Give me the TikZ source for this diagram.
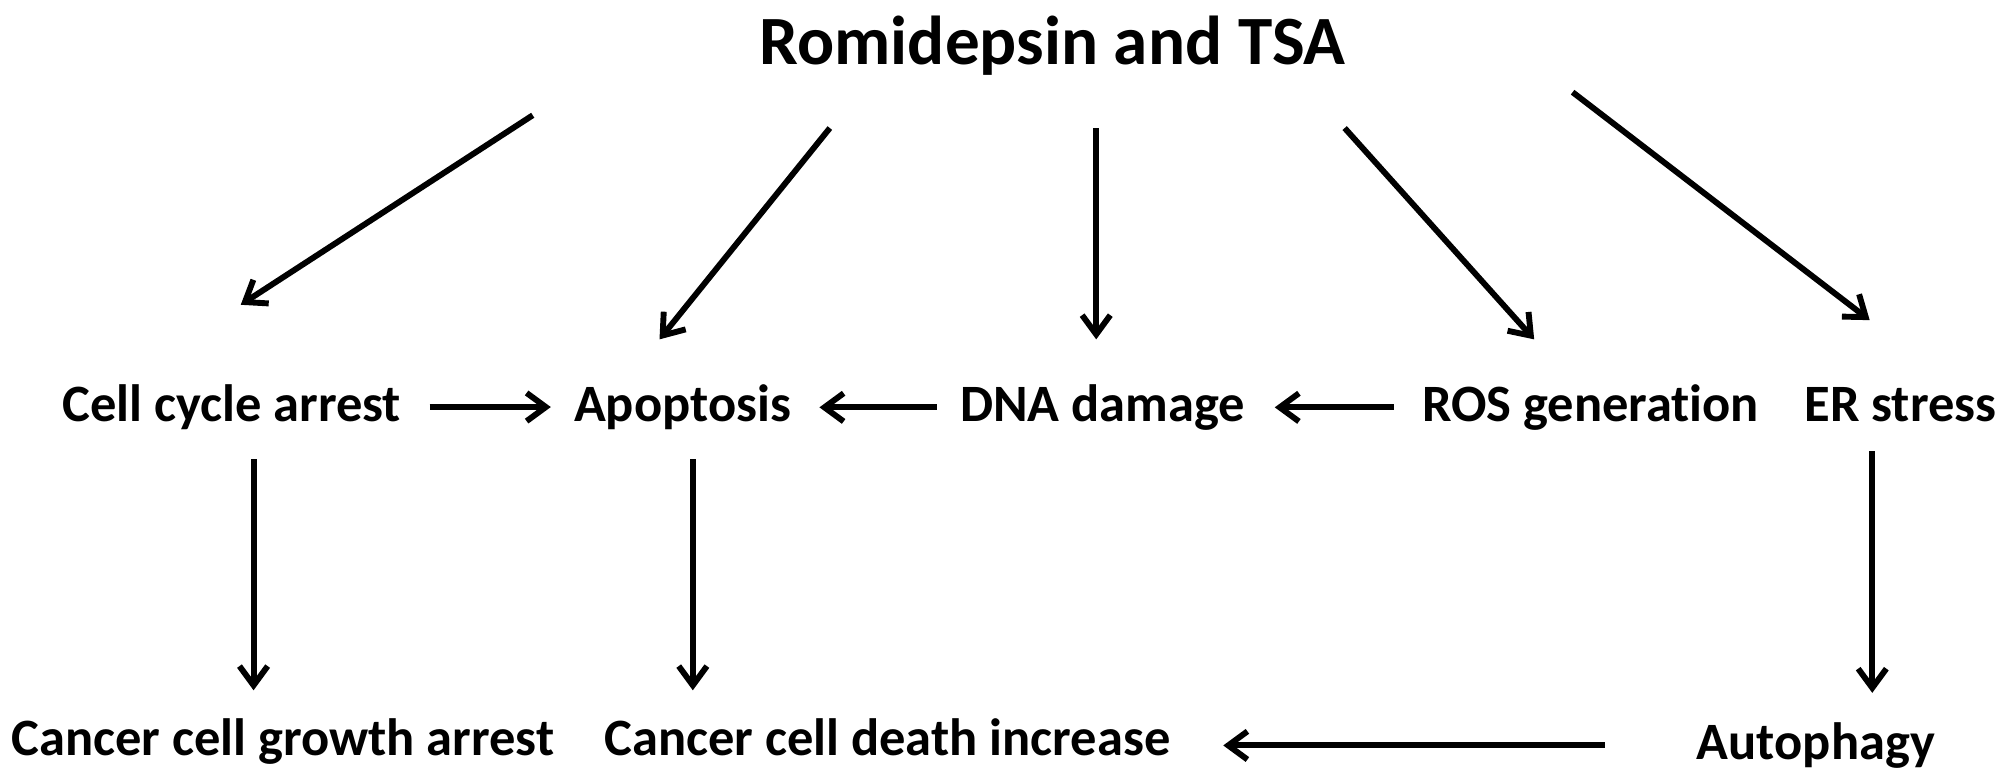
\documentclass[tikz,border=0pt]{standalone}
\usepackage{fontspec}
\setmainfont{Carlito}[Ligatures=NoCommon]
\usetikzlibrary{arrows.meta}

\tikzset{
  lbl/.style={font=\fontsize{41}{49}\selectfont\bfseries, inner sep=0pt, anchor=base},
  arr/.style={line width=4.6pt, -{Straight Barb[length=15pt,width=22pt]}},
}

\begin{document}
\begin{tikzpicture}[x=1pt, y=-1pt]
        % Fix the page size
        \useasboundingbox (0,0) rectangle (1568,607);

        % Title
        \node[lbl, font=\fontsize{54}{64}\selectfont\bfseries] (drug) at (822,50) {Romidepsin and TSA};

        % Middle row
        \node[lbl] (cca) at (181,329) {Cell cycle arrest};
        \node[lbl] (apo) at (533,329) {Apoptosis};
        \node[lbl] (dna) at (861,329) {DNA damage};
        \node[lbl] (ros) at (1242,329) {ROS generation};
        \node[lbl] (er) at (1484,329) {ER stress};

        % Bottom row
        \node[lbl] (cga) at (221,590) {Cancer cell growth arrest};
        \node[lbl] (cdi) at (693,590) {Cancer cell death increase};
        \node[lbl] (aut) at (1418,593) {Autophagy};

        % Ends of the arrows coming from the title
        \coordinate (s1) at (416,90);   \coordinate (t1) at (188,238);
        \coordinate (s2) at (648,100);  \coordinate (t2) at (515,265);
        \coordinate (s3) at (856,100);  \coordinate (t3) at (856,265);
        \coordinate (s4) at (1050,100); \coordinate (t4) at (1198,265);
        \coordinate (s5) at (1228,72);  \coordinate (t5) at (1460,250);

        % Arrows from the title
        \draw[arr] (s1) -- (t1);
        \draw[arr] (s2) -- (t2);
        \draw[arr] (s3) -- (t3);
        \draw[arr] (s4) -- (t4);
        \draw[arr] (s5) -- (t5);

        % Arrows between the middle row
        \draw[arr, shorten <=22pt, shorten >=18pt] (cca.east) -- (cca.east -| apo.west);
        \draw[arr, shorten <=18pt, shorten >=22pt] (dna.west) -- (dna.west -| apo.east);
        \draw[arr, shorten <=22pt, shorten >=23pt] (ros.west) -- (ros.west -| dna.east);

        % Arrows down to the bottom row
        \draw[arr, shorten <=23pt, shorten >=22pt] ([xshift=17pt]cca.south) -- ([xshift=17pt]cca.south |- cga.north);
        \draw[arr, shorten <=23pt, shorten >=22pt] ([xshift=8pt]apo.south) -- ([xshift=8pt]apo.south |- cdi.north);
        \draw[arr, shorten <=23pt, shorten >=23pt] ([xshift=-22pt]er.south) -- ([xshift=-22pt]er.south |- aut.north);

        % Autophagy to cell death
        \draw[arr, shorten <=72pt, shorten >=41pt] (aut.west) -- (aut.west -| cdi.east);
\end{tikzpicture}
\end{document}
